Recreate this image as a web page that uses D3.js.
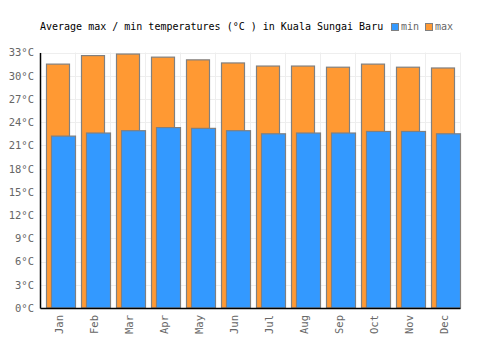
<!DOCTYPE html>
<html><head><meta charset="utf-8">
<script src="https://cdn.jsdelivr.net/npm/d3@7"></script>
<style>body{margin:0;background:#fff}svg{display:block}</style>
</head><body>
<svg id="c" width="500" height="350"></svg>
<script>
const months = ["Jan","Feb","Mar","Apr","May","Jun","Jul","Aug","Sep","Oct","Nov","Dec"];
const maxTemps = [31.5,32.6,32.8,32.4,32.05,31.65,31.25,31.25,31.1,31.5,31.1,31.0];
const minTemps = [22.2,22.6,22.9,23.3,23.2,22.9,22.5,22.6,22.6,22.8,22.8,22.5];
const yTicks = [0,3,6,9,12,15,18,21,24,27,30,33];
const title = "Average max / min temperatures (°C ) in Kuala Sungai Baru";
const seriesNames = ["min","max"];
const colors = {min:"#3399ff", max:"#ff9933"};

const svg = d3.select("#c");
const L=40, R=460, T=52.5, B=308;
const x = d3.scaleBand().domain(months).range([L,R]).padding(0);
const y = d3.scaleLinear().domain([0,33]).range([B,T]);
const font = "'DejaVu Sans Mono', monospace";

// grid
const g = svg.append("g");
g.selectAll("line.h").data(yTicks).enter().append("line")
  .attr("x1",L).attr("x2",R).attr("y1",d=>Math.round(y(d))+0.5).attr("y2",d=>Math.round(y(d))+0.5)
  .attr("stroke","#eeeeee").attr("stroke-width",1);
g.selectAll("line.v").data(months.concat(["__end"])).enter().append("line")
  .attr("x1",(d,i)=>Math.round(L+i*x.bandwidth())+0.5).attr("x2",(d,i)=>Math.round(L+i*x.bandwidth())+0.5)
  .attr("y1",T).attr("y2",B).attr("stroke","#eeeeee").attr("stroke-width",1);

// bars
svg.append("g").selectAll("rect").data(months).enter().append("rect")
  .attr("x",d=>x(d)+6.5).attr("width",23)
  .attr("y",(d,i)=>y(maxTemps[i])).attr("height",(d,i)=>B-y(maxTemps[i]))
  .attr("fill",colors.max).attr("stroke","#808080").attr("stroke-width",1.2);
svg.append("g").selectAll("rect").data(months).enter().append("rect")
  .attr("x",d=>x(d)+11.5).attr("width",24)
  .attr("y",(d,i)=>y(minTemps[i])).attr("height",(d,i)=>B-y(minTemps[i]))
  .attr("fill",colors.min).attr("stroke","#808080").attr("stroke-width",1.2);

// axes
const ya = svg.append("g").attr("transform",`translate(${L},0)`)
  .call(d3.axisLeft(y).tickValues(yTicks).tickSize(0).tickPadding(6).tickFormat(d=>d+"°C"));
ya.select(".domain").attr("stroke","#000").attr("stroke-width",1.5);
ya.selectAll("text").attr("font-family",font).attr("font-size",10.5).attr("fill","#666");

const xa = svg.append("g").attr("transform",`translate(0,${B})`)
  .call(d3.axisBottom(x).tickSize(0).tickPadding(0));
xa.select(".domain").attr("stroke","#000").attr("stroke-width",1.5);
xa.selectAll("text").attr("font-family",font).attr("font-size",10.5).attr("fill","#666")
  .attr("transform","rotate(-90)").attr("text-anchor","end").attr("dy","0.35em")
  .attr("x",-7).attr("y",1.5);

// title & legend
svg.append("text").attr("x",40).attr("y",30).attr("font-family",font).attr("font-size",10)
  .attr("fill","#000").text(title);
const lx=[391,425];
seriesNames.forEach((s,i)=>{
  svg.append("rect").attr("x",lx[i]+0.5).attr("y",23.5).attr("width",7).attr("height",7)
    .attr("fill",colors[s]).attr("stroke","#808080").attr("stroke-width",1);
  svg.append("text").attr("x",lx[i]+10).attr("y",30).attr("font-family",font).attr("font-size",10)
    .attr("fill","#666").text(s);
});
</script>
</body></html>
